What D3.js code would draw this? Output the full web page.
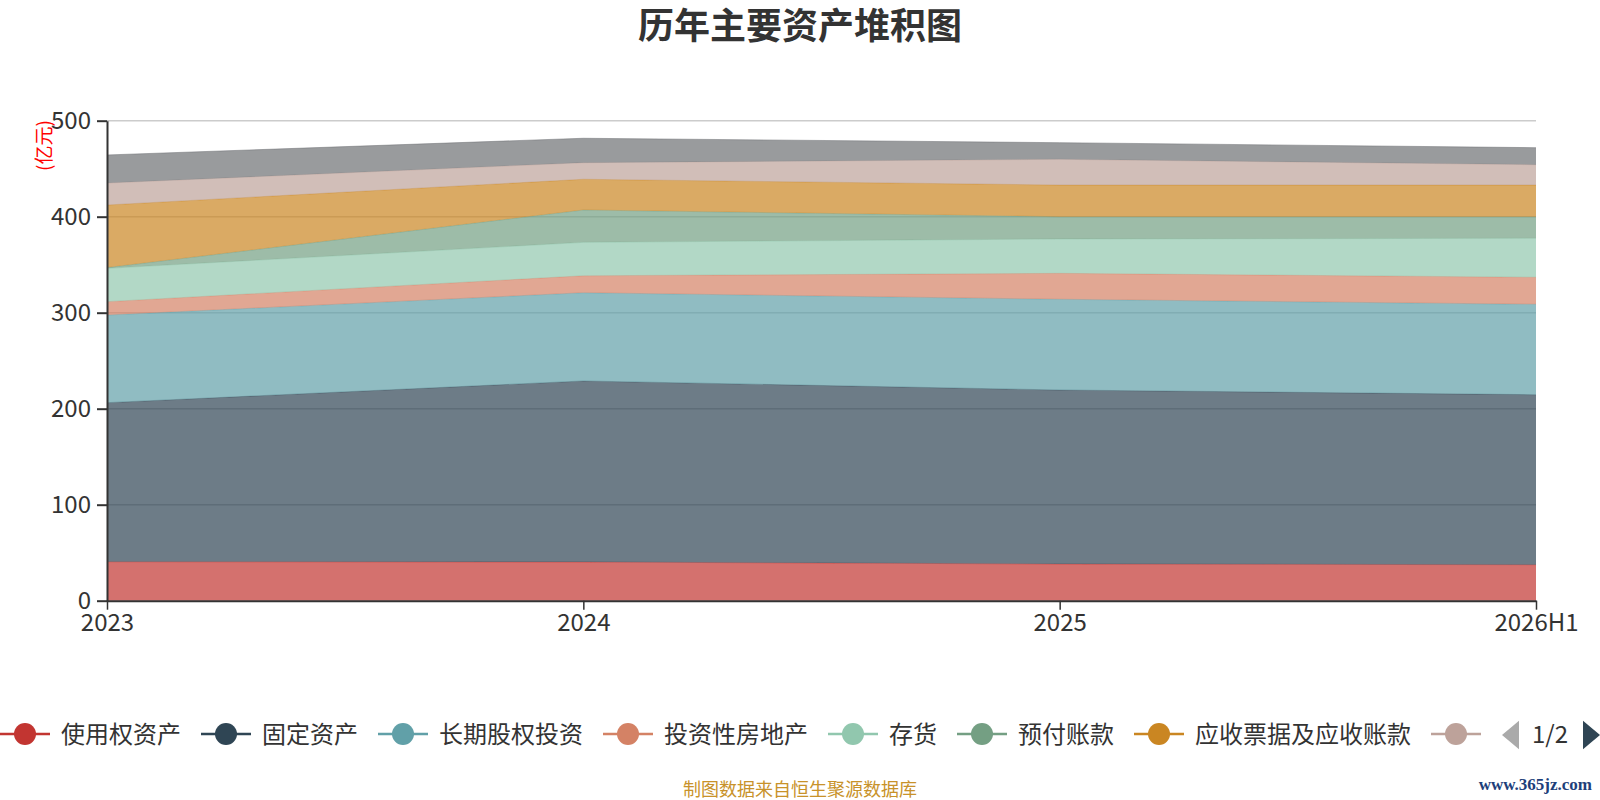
<!DOCTYPE html>
<html>
<head>
<meta charset="utf-8">
<script src="https://cdn.jsdelivr.net/npm/d3@7/dist/d3.min.js"></script>
<style>
  body { margin: 0; background: #fff; }
  svg { display: block; font-family: "Noto Sans CJK SC", "Noto Sans", sans-serif; }
</style>
</head>
<body>
<svg id="chart" width="1600" height="800"></svg>
<script>
// 年份
var years = ["2023", "2024", "2025", "2026H1"];

// 各项资产（亿元）
var seriesNames = ["使用权资产", "固定资产", "长期股权投资", "投资性房地产", "存货",
                   "预付账款", "应收票据及应收账款", "其他应收款", "货币资金"];
var shiyongquan = [40.6, 40.3, 38.2, 37.5];
var guding      = [165.7, 188.6, 181.3, 177.1];
var changqi     = [91.3, 91.9, 94.5, 94.2];
var touzixing   = [13.9, 17.7, 27.0, 28.1];
var cunhuo      = [34.7, 34.8, 35.8, 40.6];
var yufu        = [0.8, 33.7, 23.2, 22.5];
var yingshou    = [65.2, 32.0, 33.0, 33.0];
var qitayingshou = [22.9, 17.3, 26.8, 21.2];
var huobi       = [29.2, 25.4, 17.3, 17.7];

var yTicks = [0, 100, 200, 300, 400, 500];

var colors = ["#c23531", "#2f4554", "#61a0a8", "#d48265", "#91c7ae",
              "#749f83", "#ca8622", "#bda29a", "#6e7074"];

var values = [shiyongquan, guding, changqi, touzixing, cunhuo, yufu, yingshou, qitayingshou, huobi];

// build rows for d3.stack
var rows = years.map(function(y, i) {
    var r = {year: y};
    seriesNames.forEach(function(n, k) { r[n] = values[k][i]; });
    return r;
});

var svg = d3.select("#chart");

var plotLeft = 107, plotRight = 1536, plotTop = 120.7, plotBottom = 600.7;

var x = d3.scalePoint().domain(years).range([plotLeft, plotRight]);
var y = d3.scaleLinear().domain([0, 500]).range([plotBottom, plotTop]);

// title
svg.append("text")
    .attr("x", 800).attr("y", 39)
    .attr("text-anchor", "middle")
    .attr("font-size", 36).attr("font-weight", "bold")
    .attr("fill", "#333")
    .text("历年主要资产堆积图");

// grid lines
svg.append("g").selectAll("line")
    .data(yTicks.filter(function(d) { return d > 0; }))
    .enter().append("line")
    .attr("x1", plotLeft).attr("x2", plotRight)
    .attr("y1", function(d) { return y(d); })
    .attr("y2", function(d) { return y(d); })
    .attr("stroke", "#ccc").attr("stroke-width", 1.5);

// stacked areas
var stack = d3.stack().keys(seriesNames);
var layers = stack(rows);

var area = d3.area()
    .x(function(d) { return x(d.data.year); })
    .y0(function(d) { return y(d[0]); })
    .y1(function(d) { return y(d[1]); });

var topLine = d3.line()
    .x(function(d) { return x(d.data.year); })
    .y(function(d) { return y(d[1]); });

var lg = svg.append("g").selectAll("g")
    .data(layers)
    .enter().append("g");

lg.append("path")
    .attr("d", area)
    .attr("fill", function(d, i) { return colors[i]; })
    .attr("fill-opacity", 0.7);

lg.append("path")
    .attr("d", topLine)
    .attr("fill", "none")
    .attr("stroke", function(d, i) { return colors[i]; })
    .attr("stroke-opacity", 0.5)
    .attr("stroke-width", 1);

// y axis
var yAxis = svg.append("g")
    .attr("transform", "translate(" + plotLeft + ",0)")
    .call(d3.axisLeft(y).tickValues(yTicks).tickSize(10).tickPadding(6).tickSizeOuter(0));
yAxis.select(".domain").attr("stroke", "#333").attr("stroke-width", 2);
yAxis.selectAll(".tick line").attr("stroke", "#333").attr("stroke-width", 2);
yAxis.selectAll(".tick text")
    .attr("font-size", 24).attr("fill", "#333")
    .attr("font-family", "'Noto Sans CJK SC', sans-serif");

// x axis
var xAxis = svg.append("g")
    .attr("transform", "translate(0," + plotBottom + ")")
    .call(d3.axisBottom(x).tickSize(9).tickPadding(4).tickSizeOuter(0));
xAxis.select(".domain").attr("stroke", "#333").attr("stroke-width", 2);
xAxis.selectAll(".tick line").attr("stroke", "#333").attr("stroke-width", 1.5);
xAxis.selectAll(".tick text")
    .attr("font-size", 24).attr("fill", "#333")
    .attr("font-family", "'Noto Sans CJK SC', sans-serif");

// y axis unit
svg.append("text")
    .attr("transform", "translate(44.5,145.5) rotate(-90)")
    .attr("text-anchor", "middle")
    .attr("dy", "0.35em")
    .attr("font-size", 19).attr("fill", "#f00")
    .text("(亿元)");

// legend (page 1 of 2)
var legendY = 734;
var legend = svg.append("g");
var lx = 0;
seriesNames.slice(0, 8).forEach(function(name, i) {
    var g = legend.append("g").attr("transform", "translate(" + lx + "," + legendY + ")");
    g.append("line")
        .attr("x1", 0).attr("x2", 50)
        .attr("stroke", colors[i]).attr("stroke-width", 2.5);
    g.append("circle")
        .attr("cx", 25).attr("r", 11)
        .attr("fill", colors[i]);
    if (i < 7) {
        var t = g.append("text")
            .attr("x", 61).attr("dy", "0.36em")
            .attr("font-size", 24).attr("fill", "#333")
            .text(name);
        lx += 61 + t.node().getComputedTextLength() + 20;
    }
});

// pager
svg.append("path")
    .attr("d", "M1519,720.7 L1519,749.3 L1502,735 Z")
    .attr("fill", "#aaa");
svg.append("text")
    .attr("x", 1550).attr("y", legendY).attr("dy", "0.36em")
    .attr("text-anchor", "middle")
    .attr("font-size", 24).attr("fill", "#333")
    .text("1/2");
svg.append("path")
    .attr("d", "M1583,720.7 L1583,749.3 L1600,735 Z")
    .attr("fill", "#2f4554");

// source
svg.append("text")
    .attr("x", 800).attr("y", 796)
    .attr("text-anchor", "middle")
    .attr("font-size", 18).attr("fill", "#c8922a")
    .text("制图数据来自恒生聚源数据库");

svg.append("text")
    .attr("x", 1592).attr("y", 790)
    .attr("text-anchor", "end")
    .attr("font-size", 17).attr("font-weight", "bold")
    .attr("font-family", "'Liberation Serif', serif")
    .attr("fill", "#1e3f7a")
    .text("www.365jz.com");
</script>
</body>
</html>
